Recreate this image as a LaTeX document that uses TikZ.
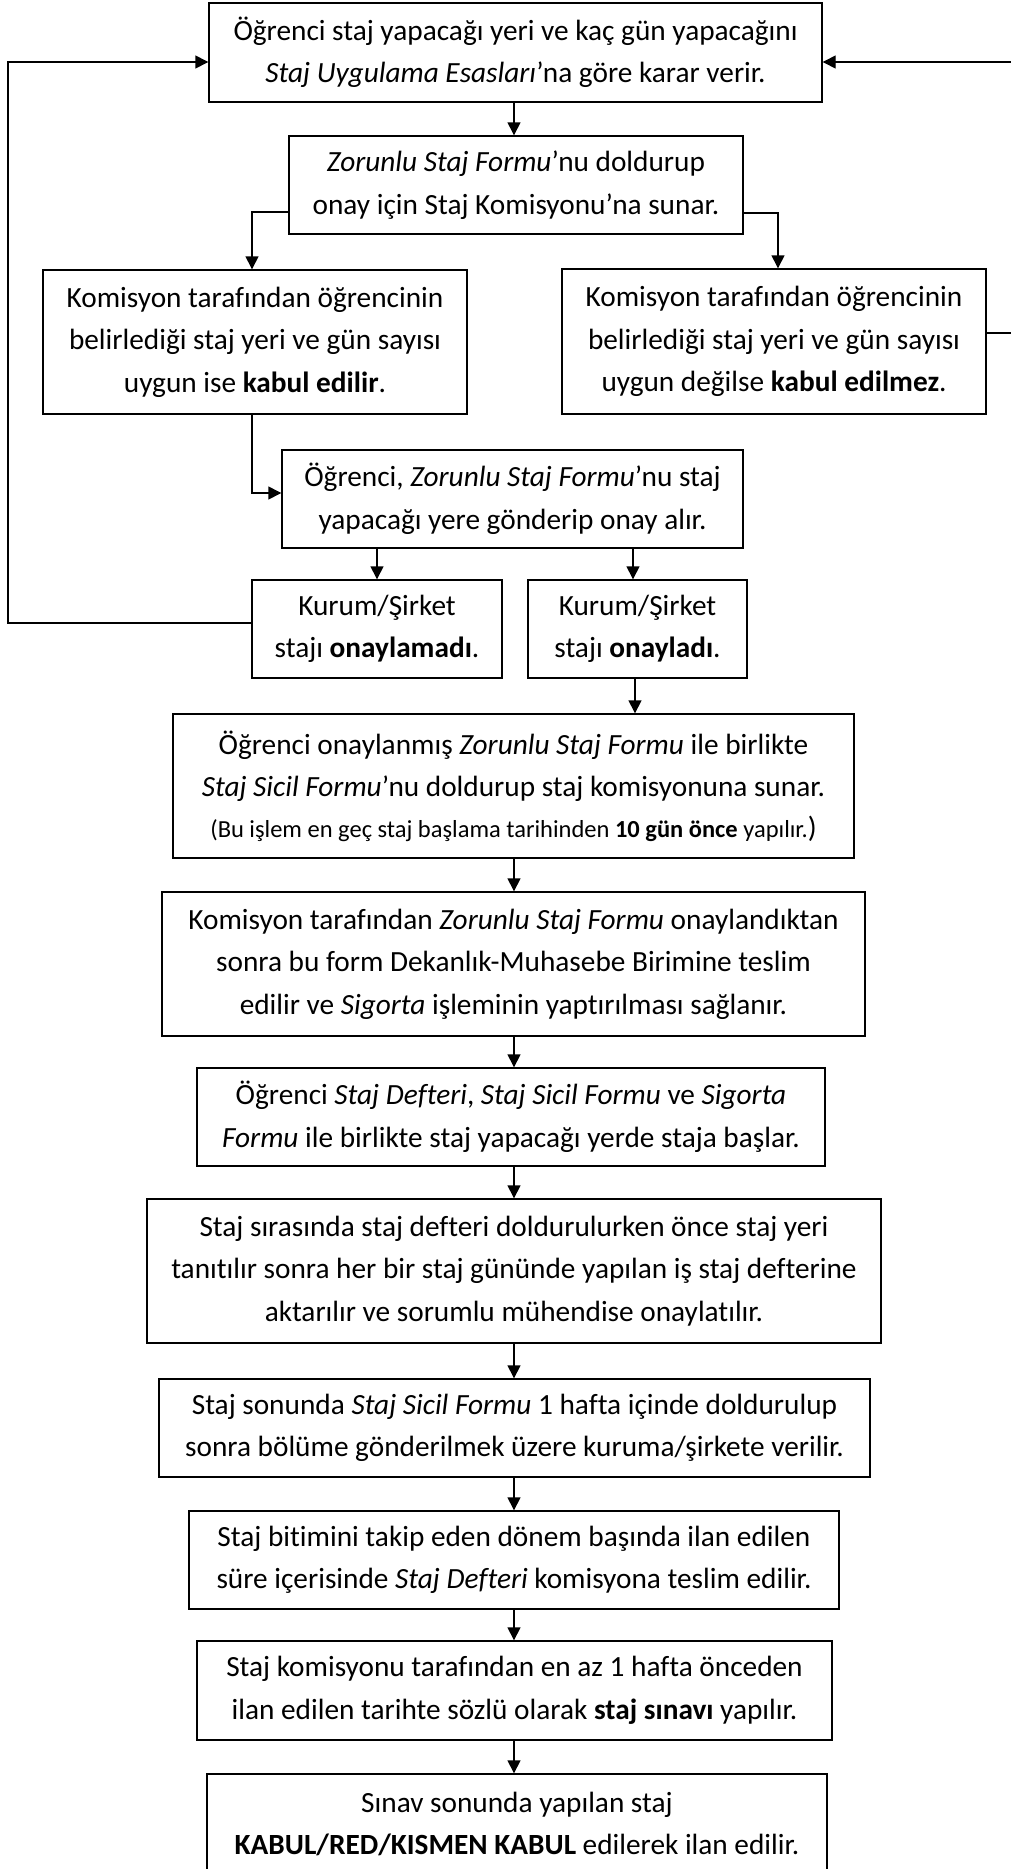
\documentclass[tikz,border=0pt]{standalone}
\usepackage{fontspec}
\setmainfont{Carlito}[Ligatures={NoCommon}]
\usetikzlibrary{arrows.meta}
\begin{document}
\begin{tikzpicture}[x=1pt, y=-1pt,
  box/.style={draw, line width=1.4pt, align=center, inner sep=0pt, font=\fontsize{29.3}{42.5}\selectfont},
  arr/.style={line width=1.4pt, -{Triangle[length=13pt,width=13pt]}},
  ln/.style={line width=1.4pt}]
\useasboundingbox (0,0) rectangle (1011,1869);
\node[box, minimum width=613pt, minimum height=99pt] (b1) at (515.5,52.5)
  {Öğrenci staj yapacağı yeri ve kaç gün yapacağını\\\textit{Staj Uygulama Esasları}’na göre karar verir.};
\node[box, minimum width=454pt, minimum height=98pt] (b2) at (516,185)
  {\textit{Zorunlu Staj Formu}’nu doldurup\\onay için Staj Komisyonu’na sunar.};
\node[box, minimum width=424pt, minimum height=144pt] (b3) at (255,342)
  {Komisyon tarafından öğrencinin\\belirlediği staj yeri ve gün sayısı\\uygun ise \textbf{kabul edilir}.};
\node[box, minimum width=424pt, minimum height=145pt] (b4) at (774,341.5)
  {Komisyon tarafından öğrencinin\\belirlediği staj yeri ve gün sayısı\\uygun değilse \textbf{kabul edilmez}.};
\node[box, minimum width=461pt, minimum height=98pt] (b5) at (512.5,499)
  {Öğrenci, \textit{Zorunlu Staj Formu}’nu staj\\yapacağı yere gönderip onay alır.};
\node[box, minimum width=250pt, minimum height=98pt] (b6) at (377,629)
  {Kurum/Şirket\\stajı \textbf{onaylamadı}.};
\node[box, minimum width=219pt, minimum height=98pt] (b7) at (637.5,629)
  {Kurum/Şirket\\stajı \textbf{onayladı}.};
\node[box, minimum width=681pt, minimum height=144pt] (b8) at (513.5,786)
  {Öğrenci onaylanmış \textit{Zorunlu Staj Formu} ile birlikte\\\textit{Staj Sicil Formu}’nu doldurup staj komisyonuna sunar.\\[-2pt]{\fontsize{24.5}{32}\selectfont (Bu işlem en geç staj başlama tarihinden \textbf{10 gün önce} yapılır.})};
\node[box, minimum width=703pt, minimum height=144pt] (b9) at (513.5,964)
  {Komisyon tarafından \textit{Zorunlu Staj Formu} onaylandıktan\\sonra bu form Dekanlık-Muhasebe Birimine teslim\\edilir ve \textit{Sigorta} işleminin yaptırılması sağlanır.};
\node[box, minimum width=628pt, minimum height=98pt] (b10) at (511,1117)
  {Öğrenci \textit{Staj Defteri}, \textit{Staj Sicil Formu} ve \textit{Sigorta}\\\textit{Formu} ile birlikte staj yapacağı yerde staja başlar.};
\node[box, minimum width=734pt, minimum height=144pt] (b11) at (514,1271)
  {Staj sırasında staj defteri doldurulurken önce staj yeri\\tanıtılır sonra her bir staj gününde yapılan iş staj defterine\\aktarılır ve sorumlu mühendise onaylatılır.};
\node[box, minimum width=711pt, minimum height=98pt] (b12) at (514.5,1428)
  {Staj sonunda \textit{Staj Sicil Formu} 1 hafta içinde doldurulup\\sonra bölüme gönderilmek üzere kuruma/şirkete verilir.};
\node[box, minimum width=650pt, minimum height=98pt] (b13) at (514,1560)
  {Staj bitimini takip eden dönem başında ilan edilen\\süre içerisinde \textit{Staj Defteri} komisyona teslim edilir.};
\node[box, minimum width=635pt, minimum height=99pt] (b14) at (514.5,1690.5)
  {Staj komisyonu tarafından en az 1 hafta önceden\\ilan edilen tarihte sözlü olarak \textbf{staj sınavı} yapılır.};
\node[box, minimum width=620pt, minimum height=100pt] (b15) at (517,1824)
  {Sınav sonunda yapılan staj\\\textbf{KABUL/RED/KISMEN KABUL} edilerek ilan edilir.};
% helper coordinates
\coordinate (ax) at (514,0);
\coordinate (j1) at (252,212);
\coordinate (j2) at (778,213);
\coordinate (j3) at (252,493);
\coordinate (j4) at (633,0);
\coordinate (j5) at (635,0);
\coordinate (L1) at (8,623);
\coordinate (L2) at (8,62);
\coordinate (R1) at (1016,333);
\coordinate (R2) at (1016,62);
% connectors
\draw[arr] (b1.south -| ax) -- (b2.north -| ax);
\draw[arr] (b2.west |- j1) -- (j1) -- (b3.north -| j1);
\draw[arr] (b2.east |- j2) -- (j2) -- (b4.north -| j2);
\draw[arr] (b3.south -| j3) -- (j3) -- (b5.west |- j3);
\draw[arr] (b5.south -| b6.north) -- (b6.north);
\draw[arr] (b5.south -| j4) -- (b7.north -| j4);
\draw[arr] (b7.south -| j5) -- (b8.north -| j5);
\draw[arr] (b6.west |- L1) -- (L1) -- (L2) -- (b1.west |- L2);
\draw[arr] (b4.east |- R1) -- (R1) -- (R2) -- (b1.east |- R2);
\draw[arr] (b8.south -| ax) -- (b9.north -| ax);
\draw[arr] (b9.south -| ax) -- (b10.north -| ax);
\draw[arr] (b10.south -| ax) -- (b11.north -| ax);
\draw[arr] (b11.south -| ax) -- (b12.north -| ax);
\draw[arr] (b12.south -| ax) -- (b13.north -| ax);
\draw[arr] (b13.south -| ax) -- (b14.north -| ax);
\draw[arr] (b14.south -| ax) -- (b15.north -| ax);
\end{tikzpicture}
\end{document}
